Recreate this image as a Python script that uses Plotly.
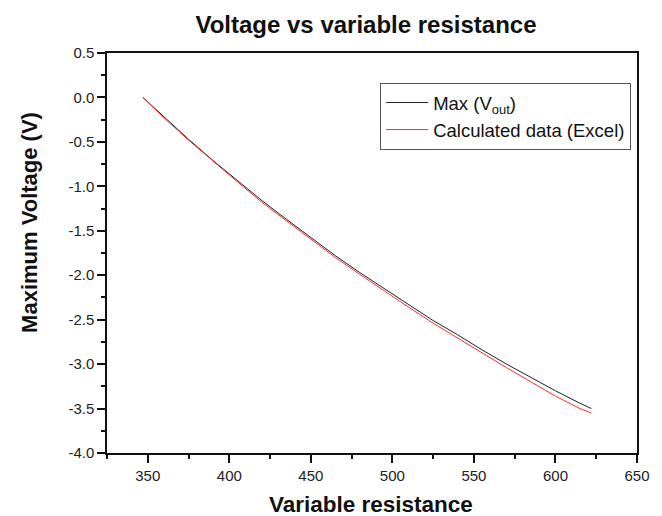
import plotly.graph_objects as go

# Data
resistance = [347, 360, 375, 390, 405, 420, 435, 450, 465, 480,
              495, 510, 525, 540, 555, 570, 585, 600, 615, 622]
max_vout = [0.00, -0.22, -0.47, -0.71, -0.94, -1.16, -1.37, -1.58, -1.78, -1.97,
            -2.15, -2.33, -2.51, -2.67, -2.84, -3.00, -3.15, -3.30, -3.44, -3.50]
calculated = [0.00, -0.23, -0.48, -0.72, -0.95, -1.18, -1.39, -1.60, -1.80, -1.99,
              -2.18, -2.36, -2.54, -2.71, -2.88, -3.04, -3.20, -3.36, -3.50, -3.55]

x_ticks = [350, 400, 450, 500, 550, 600, 650]
y_ticks = [-4.0, -3.5, -3.0, -2.5, -2.0, -1.5, -1.0, -0.5, 0.0, 0.5]
y_ticktext = ["-4.0", "-3.5", "-3.0", "-2.5", "-2.0", "-1.5", "-1.0", "-0.5", "0.0", "0.5"]

FONT = "Arial, 'Liberation Sans', sans-serif"

# The page body has an 8px default margin; the figure is sized to fill the rest.
W, H = 654, 508
OFF = 8

fig = go.Figure()
fig.add_trace(go.Scatter(x=resistance, y=max_vout, mode="lines",
                         name="Max (V<sub>out</sub>)",
                         line=dict(color="#222222", width=1)))
fig.add_trace(go.Scatter(x=resistance, y=calculated, mode="lines",
                         name="Calculated data (Excel)",
                         line=dict(color="#ff2a2a", width=1)))

axis_common = dict(
    showline=True, linecolor="#111111", linewidth=1.5, mirror=True,
    ticks="outside", ticklen=8, tickwidth=1.5, tickcolor="#111111",
    showgrid=False, zeroline=False,
    tickfont=dict(family=FONT, size=15, color="#222222"),
)

fig.update_xaxes(range=[325, 650], tickvals=x_ticks,
                 minor=dict(ticks="outside", ticklen=4, tickwidth=1.5,
                            tickcolor="#111111", dtick=25, tick0=325),
                 **axis_common)
fig.update_yaxes(range=[-4.0, 0.5], tickvals=y_ticks, ticktext=y_ticktext,
                 minor=dict(ticks="outside", ticklen=4, tickwidth=1.5,
                            tickcolor="#111111", dtick=0.25, tick0=0),
                 **axis_common)

fig.update_layout(
    width=W, height=H,
    margin=dict(l=107 - OFF, r=12, t=53 - OFF, b=63),
    paper_bgcolor="white", plot_bgcolor="white",
    font=dict(family=FONT, color="#111111"),
    title=dict(text="<b>Voltage vs variable resistance</b>",
               x=(366 - OFF) / W, xanchor="center", xref="container",
               y=1 - (25 - OFF) / H, yanchor="middle", yref="container",
               font=dict(family=FONT, size=24, color="#111111")),
    legend=dict(x=0.989, xanchor="right", y=0.925, yanchor="top",
                bgcolor="white", bordercolor="#555555", borderwidth=1,
                font=dict(family=FONT, size=18.5, color="#111111"),
                itemwidth=42, tracegroupgap=0),
    annotations=[
        dict(text="<b>Variable resistance</b>", xref="paper", yref="paper",
             x=(377.5 - 107) / 543, y=-(504 - 453) / 400,
             xanchor="center", yanchor="middle", showarrow=False,
             font=dict(family=FONT, size=22.5, color="#111111")),
        dict(text="<b>Maximum Voltage (V)</b>", xref="paper", yref="paper",
             x=(27 - 107) / 543, y=(453 - 222) / 400, textangle=-90,
             xanchor="center", yanchor="middle", showarrow=False,
             font=dict(family=FONT, size=22, color="#111111")),
    ],
)

fig.write_html("out.html")
